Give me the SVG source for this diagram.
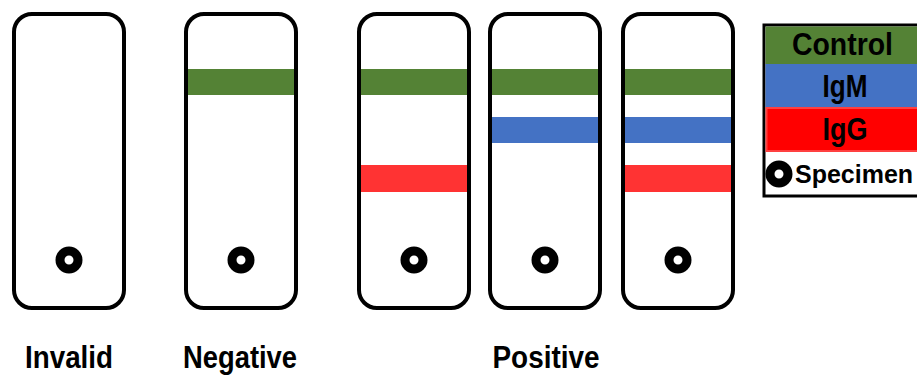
<svg xmlns="http://www.w3.org/2000/svg" width="917" height="377" viewBox="0 0 917 377">
  <style>
    .strip { fill: #ffffff; stroke: #000000; stroke-width: 4; }
    .ring { fill: none; stroke: #000000; stroke-width: 9; }
    .green { fill: #548235; }
    .blue { fill: #4472C4; }
    .red { fill: #FF3333; }
    .lbl { font-family: "Liberation Sans", Arial, sans-serif; font-weight: bold; font-size: 32px; fill: #000000; text-anchor: middle; }
    .leg { font-family: "Liberation Sans", Arial, sans-serif; font-weight: bold; font-size: 31px; fill: #000000; text-anchor: middle; }
  </style>
  <rect width="917" height="377" fill="#ffffff"/>

  <g id="strip-invalid">
    <rect class="strip" x="14" y="14" width="110" height="294" rx="18" ry="18"/>
    <circle class="ring" cx="69" cy="260" r="9"/>
  </g>
  <g id="strip-negative">
    <rect class="strip" x="186" y="14" width="110" height="294" rx="18" ry="18"/>
    <rect class="green" x="188" y="69" width="106" height="26"/>
    <circle class="ring" cx="241" cy="260" r="9"/>
  </g>
  <g id="strip-positive-igg">
    <rect class="strip" x="359" y="14" width="110" height="294" rx="18" ry="18"/>
    <rect class="green" x="361" y="69" width="106" height="26"/>
    <rect class="red" x="361" y="165" width="106" height="27"/>
    <circle class="ring" cx="414" cy="260" r="9"/>
  </g>
  <g id="strip-positive-igm">
    <rect class="strip" x="490" y="14" width="110" height="294" rx="18" ry="18"/>
    <rect class="green" x="492" y="69" width="106" height="26"/>
    <rect class="blue" x="492" y="117" width="106" height="26"/>
    <circle class="ring" cx="545" cy="260" r="9"/>
  </g>
  <g id="strip-positive-both">
    <rect class="strip" x="623" y="14" width="110" height="294" rx="18" ry="18"/>
    <rect class="green" x="625" y="69" width="106" height="26"/>
    <rect class="blue" x="625" y="117" width="106" height="26"/>
    <rect class="red" x="625" y="165" width="106" height="27"/>
    <circle class="ring" cx="678" cy="260" r="9"/>
  </g>

  <g id="labels">
    <text class="lbl" x="69" y="368" textLength="88" lengthAdjust="spacingAndGlyphs">Invalid</text>
    <text class="lbl" x="240" y="368" textLength="114" lengthAdjust="spacingAndGlyphs">Negative</text>
    <text class="lbl" x="546" y="368" textLength="107" lengthAdjust="spacingAndGlyphs">Positive</text>
  </g>

  <g id="legend">
    <rect x="764" y="25" width="157" height="171" fill="#ffffff" stroke="#000000" stroke-width="3"/>
    <rect class="green" x="765.5" y="26.5" width="154" height="37.5"/>
    <rect class="blue" x="765.5" y="64" width="154" height="43"/>
    <rect x="766.5" y="108" width="152" height="43" fill="#FF0000" stroke="#FF4040" stroke-width="2"/>
    <text class="leg" x="842.5" y="55" textLength="101" lengthAdjust="spacingAndGlyphs">Control</text>
    <text class="leg" x="845" y="97" textLength="45" lengthAdjust="spacingAndGlyphs">IgM</text>
    <text class="leg" x="845" y="140" textLength="45" lengthAdjust="spacingAndGlyphs">IgG</text>
    <circle class="ring" cx="779" cy="174" r="9"/>
    <text x="795" y="183" font-family="'Liberation Sans', Arial, sans-serif" font-weight="bold" font-size="25" fill="#000000">Specimen</text>
  </g>
</svg>
